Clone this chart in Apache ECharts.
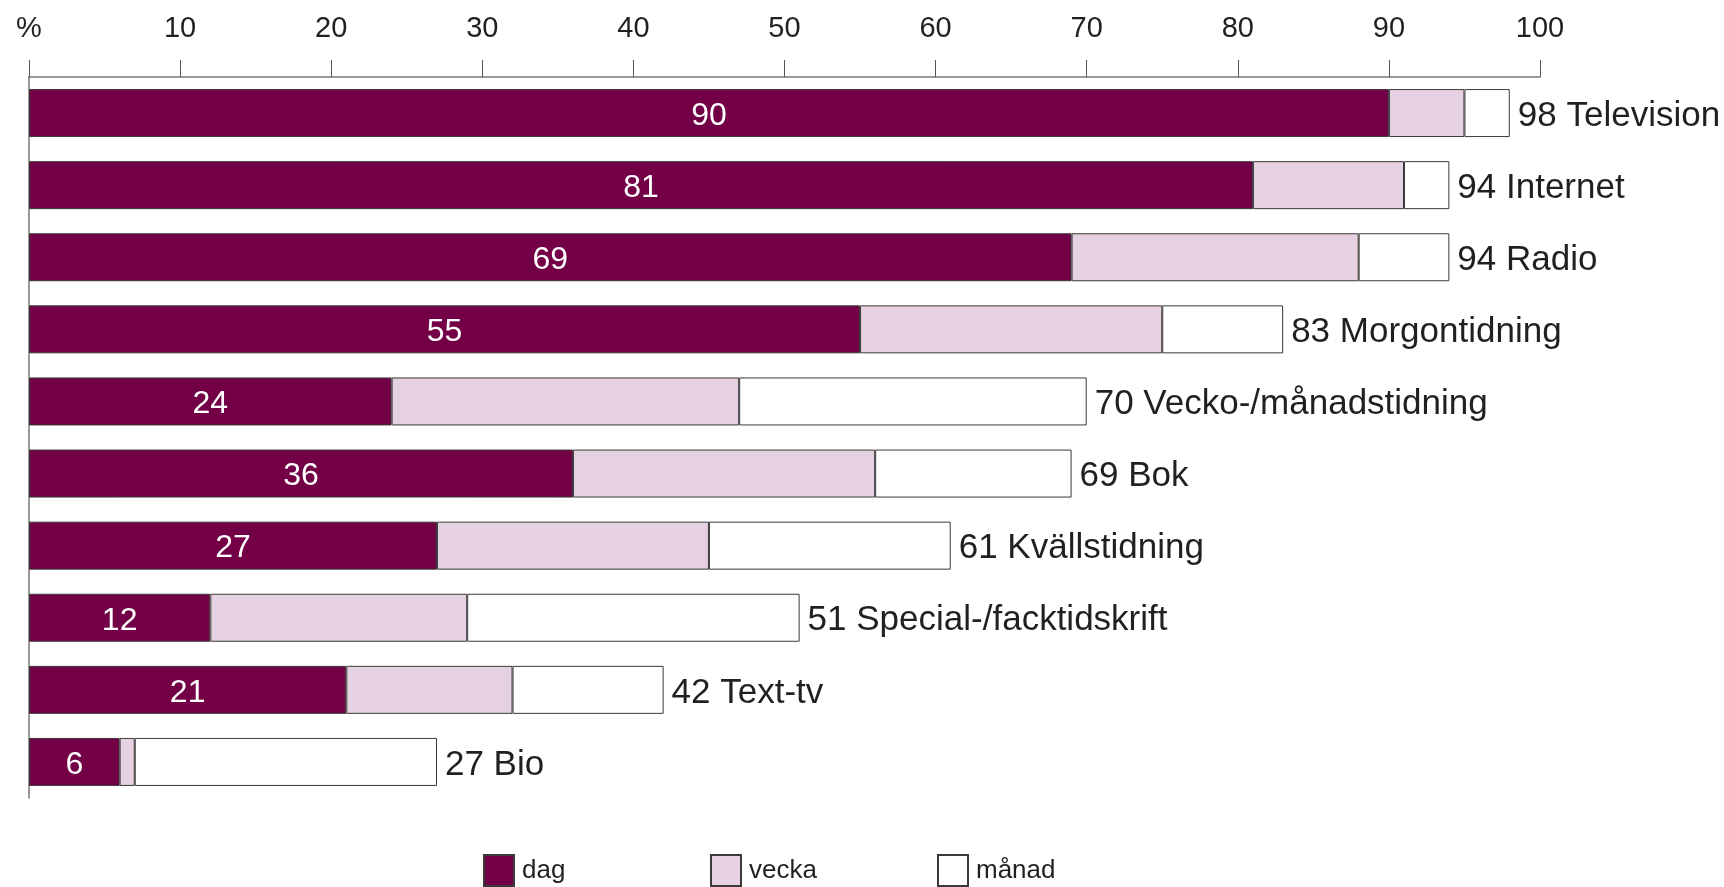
<!DOCTYPE html>
<html>
<head>
<meta charset="utf-8">
<script src="https://cdn.jsdelivr.net/npm/echarts@6/dist/echarts.min.js"></script>
<style>
  html, body { margin: 0; padding: 0; background: #fff; }
  #chart { width: 1724px; height: 887px; }
</style>
</head>
<body>
<div id="chart"></div>
<script>
// media categories, top to bottom
const categories = ['Television', 'Internet', 'Radio', 'Morgontidning', 'Vecko-/månadstidning',
  'Bok', 'Kvällstidning', 'Special-/facktidskrift', 'Text-tv', 'Bio']
// share using it per day / extra per week / extra per month (%)
const dag = [90, 81, 69, 55, 24, 36, 27, 12, 21, 6]
const vecka = [5, 10, 19, 20, 23, 20, 18, 17, 11, 1]
const manad = [3, 3, 6, 8, 23, 13, 16, 22, 10, 20]
const totals = [98, 94, 94, 83, 70, 69, 61, 51, 42, 27]
const xTicks = [0, 10, 20, 30, 40, 50, 60, 70, 80, 90, 100]

const FONT = '"Liberation Sans", Arial, sans-serif'
const BORDER = '#3a3a3a'
const TEXT = '#231f20'

const chart = echarts.init(document.getElementById('chart'))

const legendBase = {
  bottom: 0,
  padding: 0,
  icon: 'rect',
  itemWidth: 30,
  itemHeight: 31,
  itemGap: 6,
  textStyle: { fontFamily: FONT, fontSize: 26, color: TEXT, padding: [6, 0, 0, 3] }
}

const option = {
  animation: false,
  textStyle: { fontFamily: FONT },
  grid: { left: 29, right: 184, top: 77, bottom: 89 },
  legend: [
    Object.assign({ left: 483, data: ['dag'] }, legendBase),
    Object.assign({ left: 710, data: ['vecka'] }, legendBase),
    Object.assign({ left: 937, data: ['månad'] }, legendBase)
  ],
  xAxis: {
    type: 'value',
    position: 'top',
    min: xTicks[0],
    max: xTicks[xTicks.length - 1],
    interval: 10,
    axisLine: { show: true, lineStyle: { color: '#777', width: 1.5 } },
    axisTick: { show: true, length: 17, lineStyle: { color: '#555', width: 1 } },
    splitLine: { show: false },
    axisLabel: {
      margin: 34,
      fontSize: 29,
      fontFamily: FONT,
      color: TEXT,
      formatter: v => (v === 0 ? '%' : String(v))
    }
  },
  yAxis: {
    type: 'category',
    inverse: true,
    data: categories,
    axisLine: { show: true, lineStyle: { color: '#777', width: 1.5 } },
    axisTick: { show: false },
    axisLabel: { show: false }
  },
  series: [
    {
      name: 'dag',
      type: 'bar',
      stack: 'all',
      barWidth: 48,
      data: dag,
      itemStyle: { color: '#730046', borderColor: BORDER, borderWidth: 1 },
      label: {
        show: true,
        position: 'inside',
        offset: [0, 3],
        color: '#fff',
        fontSize: 32,
        fontFamily: FONT
      }
    },
    {
      name: 'vecka',
      type: 'bar',
      stack: 'all',
      barWidth: 48,
      data: vecka,
      itemStyle: { color: '#e6d1e2', borderColor: BORDER, borderWidth: 1 }
    },
    {
      name: 'månad',
      type: 'bar',
      stack: 'all',
      barWidth: 48,
      data: manad,
      itemStyle: { color: '#ffffff', borderColor: BORDER, borderWidth: 1 },
      label: {
        show: true,
        position: 'right',
        distance: 8,
        offset: [0, 3],
        color: TEXT,
        fontSize: 35,
        fontFamily: FONT,
        formatter: p => totals[p.dataIndex] + ' ' + categories[p.dataIndex]
      }
    }
  ]
}

chart.setOption(option)
</script>
</body>
</html>
